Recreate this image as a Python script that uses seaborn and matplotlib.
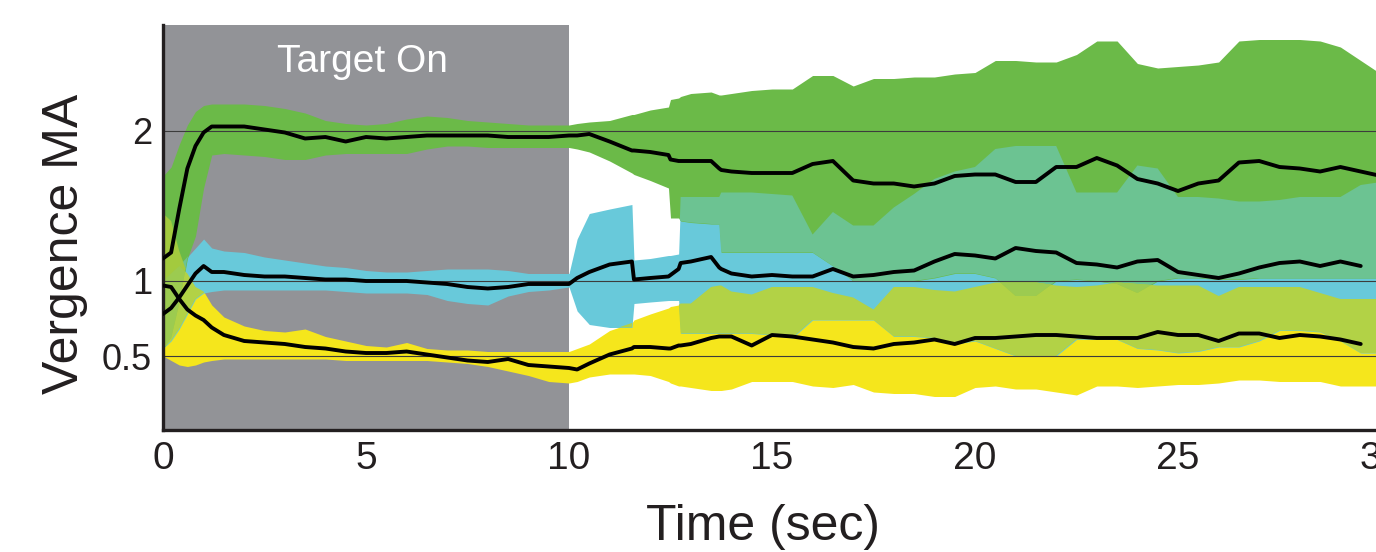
import numpy as np
import pandas as pd
import matplotlib
matplotlib.use("Agg")
import matplotlib.pyplot as plt
import seaborn as sns

# ---------------- data ----------------
time_s = [0, 0.2, 0.4, 0.6, 0.8, 1.0, 1.2, 1.5,
          2.0, 2.5, 3.0, 3.5, 4.0, 4.5, 5.0, 5.5, 6.0, 6.5, 7.0, 7.5, 8.0, 8.5, 9.0, 9.5, 10.0,
          10.2, 10.5, 11.0, 11.55, 11.6, 12.0, 12.45, 12.5, 12.7, 12.75, 13.0, 13.5, 13.7, 13.75, 14.0,
          14.5, 15.0, 15.5, 16.0, 16.5, 17.0, 17.5, 18.0, 18.5, 19.0, 19.5, 20.0, 20.5, 21.0, 21.5,
          22.0, 22.5, 23.0, 23.5, 24.0, 24.5, 25.0, 25.5, 26.0, 26.5, 27.0, 27.5, 28.0, 28.5, 29.0,
          29.5, 30.0]

green_mean = [1.15, 1.19, 1.48, 1.75, 1.90, 1.99, 2.03, 2.03,
              2.03, 2.01, 1.99, 1.95, 1.96, 1.93, 1.96, 1.95, 1.96, 1.97, 1.97, 1.97, 1.97, 1.96, 1.96, 1.96, 1.97,
              1.97, 1.98, 1.93, 1.87, 1.87, 1.86, 1.84, 1.81, 1.80, 1.80, 1.80, 1.80, 1.75, 1.74, 1.73,
              1.72, 1.72, 1.72, 1.78, 1.80, 1.67, 1.65, 1.65, 1.63, 1.65, 1.70, 1.71, 1.71, 1.66, 1.66,
              1.76, 1.76, 1.82, 1.77, 1.68, 1.65, 1.60, 1.65, 1.67, 1.79, 1.80, 1.76, 1.75, 1.73, 1.76,
              1.73, 1.70]
green_upper = [1.70, 1.76, 1.91, 2.04, 2.13, 2.17, 2.18, 2.18,
               2.18, 2.17, 2.15, 2.12, 2.07, 2.05, 2.04, 2.05, 2.08, 2.10, 2.09, 2.07, 2.06, 2.05, 2.04, 2.04, 2.04,
               2.05, 2.06, 2.07, 2.11, 2.11, 2.14, 2.16, 2.21, 2.22, 2.23, 2.25, 2.26, 2.24, 2.24, 2.25,
               2.27, 2.28, 2.28, 2.37, 2.37, 2.30, 2.35, 2.35, 2.36, 2.36, 2.38, 2.39, 2.47, 2.47, 2.46,
               2.46, 2.51, 2.60, 2.60, 2.45, 2.42, 2.43, 2.44, 2.46, 2.60, 2.61, 2.61, 2.61, 2.60, 2.56,
               2.47, 2.38]
green_lower = [0.55, 0.62, 0.85, 1.15, 1.30, 1.62, 1.84, 1.85,
               1.84, 1.83, 1.81, 1.81, 1.84, 1.85, 1.85, 1.85, 1.85, 1.88, 1.90, 1.90, 1.89, 1.89, 1.89, 1.89, 1.89,
               1.88, 1.86, 1.80, 1.72, 1.71, 1.67, 1.62, 1.42, 1.42, 1.40, 1.39, 1.38, 1.38, 1.19, 1.19,
               1.19, 1.19, 1.19, 1.19, 1.10, 1.00, 1.00, 1.00, 1.00, 1.02, 1.05, 1.05, 1.02, 0.90, 0.90,
               1.00, 1.01, 1.00, 0.98, 0.92, 1.00, 1.02, 1.02, 1.01, 1.01, 1.02, 1.02, 1.02, 1.02, 1.02,
               1.02, 1.02]

cyan_mean = [0.78, 0.82, 0.89, 0.97, 1.05, 1.10, 1.06, 1.06,
             1.04, 1.03, 1.03, 1.02, 1.01, 1.01, 1.00, 1.00, 1.00, 0.99, 0.98, 0.96, 0.95, 0.96, 0.98, 0.98, 0.98,
             1.02, 1.06, 1.11, 1.13, 1.01, 1.02, 1.03, 1.04, 1.08, 1.12, 1.13, 1.16, 1.09, 1.08, 1.05,
             1.03, 1.04, 1.03, 1.03, 1.08, 1.03, 1.04, 1.06, 1.07, 1.13, 1.18, 1.17, 1.15, 1.22, 1.20,
             1.19, 1.12, 1.11, 1.09, 1.13, 1.14, 1.06, 1.04, 1.02, 1.05, 1.09, 1.12, 1.13, 1.10, 1.13,
             1.10, np.nan]
cyan_upper = [1.00, 1.05, 1.10, 1.16, 1.22, 1.28, 1.22, 1.20,
              1.19, 1.16, 1.14, 1.12, 1.10, 1.09, 1.07, 1.06, 1.06, 1.07, 1.08, 1.08, 1.08, 1.07, 1.05, 1.05, 1.05,
              1.28, 1.45, 1.48, 1.51, 1.14, 1.15, 1.17, 1.17, 1.18, 1.56, 1.56, 1.56, 1.56, 1.59, 1.59,
              1.59, 1.58, 1.57, 1.31, 1.46, 1.37, 1.37, 1.49, 1.58, 1.68, 1.73, 1.76, 1.88, 1.90, 1.90,
              1.90, 1.59, 1.59, 1.59, 1.77, 1.75, 1.56, 1.56, 1.55, 1.53, 1.53, 1.54, 1.56, 1.56, 1.56,
              1.64, 1.66]
cyan_lower = [0.55, 0.60, 0.68, 0.78, 0.88, 0.92, 0.93, 0.94,
              0.94, 0.94, 0.94, 0.94, 0.94, 0.93, 0.92, 0.92, 0.92, 0.91, 0.87, 0.85, 0.84, 0.90, 0.93, 0.94, 0.96,
              0.80, 0.71, 0.69, 0.69, 0.85, 0.86, 0.87, 0.87, 0.87, 0.65, 0.65, 0.65, 0.65, 0.65, 0.65,
              0.65, 0.64, 0.62, 0.74, 0.74, 0.74, 0.74, 0.63, 0.63, 0.62, 0.58, 0.60, 0.55, 0.50, 0.50,
              0.50, 0.61, 0.61, 0.61, 0.55, 0.54, 0.52, 0.53, 0.56, 0.56, 0.60, 0.67, 0.67, 0.66, 0.60,
              0.52, 0.52]

yellow_mean = [0.97, 0.96, 0.88, 0.81, 0.77, 0.74, 0.69, 0.64,
               0.60, 0.59, 0.58, 0.56, 0.55, 0.53, 0.52, 0.52, 0.53, 0.51, 0.49, 0.47, 0.46, 0.48, 0.44, 0.43, 0.42,
               0.41, 0.45, 0.51, 0.55, 0.56, 0.56, 0.55, 0.55, 0.57, 0.57, 0.58, 0.62, 0.63, 0.63, 0.63,
               0.57, 0.64, 0.63, 0.61, 0.59, 0.56, 0.55, 0.58, 0.59, 0.61, 0.58, 0.62, 0.62, 0.63, 0.64,
               0.64, 0.63, 0.62, 0.62, 0.62, 0.66, 0.64, 0.64, 0.60, 0.65, 0.65, 0.62, 0.64, 0.63, 0.61,
               0.58, np.nan]
yellow_upper = [1.45, 1.40, 1.20, 1.05, 0.96, 0.93, 0.84, 0.76,
                0.70, 0.67, 0.66, 0.68, 0.63, 0.60, 0.57, 0.56, 0.59, 0.55, 0.54, 0.54, 0.53, 0.53, 0.53, 0.53, 0.53,
                0.55, 0.58, 0.67, 0.72, 0.74, 0.78, 0.82, 0.83, 0.84, 0.85, 0.85, 0.96, 0.97, 0.97, 0.93,
                0.91, 0.96, 0.96, 0.96, 0.92, 0.89, 0.81, 0.96, 0.96, 0.94, 0.93, 0.96, 0.99, 0.99, 0.99,
                0.97, 0.96, 0.97, 0.99, 0.98, 0.97, 0.97, 0.97, 0.90, 0.96, 0.96, 0.96, 0.96, 0.92, 0.88,
                0.88, 0.88]
yellow_lower = [0.50, 0.47, 0.44, 0.43, 0.44, 0.46, 0.47, 0.48,
                0.48, 0.48, 0.48, 0.48, 0.48, 0.47, 0.47, 0.47, 0.47, 0.47, 0.46, 0.45, 0.43, 0.40, 0.37, 0.33, 0.32,
                0.33, 0.36, 0.38, 0.38, 0.38, 0.37, 0.33, 0.32, 0.30, 0.30, 0.29, 0.27, 0.27, 0.27, 0.28,
                0.33, 0.33, 0.33, 0.30, 0.29, 0.31, 0.26, 0.25, 0.25, 0.23, 0.23, 0.29, 0.30, 0.28, 0.28,
                0.26, 0.24, 0.30, 0.30, 0.29, 0.30, 0.31, 0.31, 0.32, 0.34, 0.34, 0.33, 0.33, 0.33, 0.30,
                0.30, 0.30]

x_ticks = [0, 5, 10, 15, 20, 25, 30]
x_tick_labels = ["0", "5", "10", "15", "20", "25", "30"]
y_ticks = [0.5, 1.0, 1.5, 2.0, 2.5]
y_tick_labels = ["0.5", "1", "", "2", ""]
ref_levels = [0.5, 1.0, 2.0]
target_on = (0, 10)

# ---------------- style ----------------
sns.set_theme(style="white")
plt.rcParams["font.family"] = ["Liberation Sans", "DejaVu Sans"]
ink = "#231f20"

C_GREEN = "#6bba48"
C_CYAN = "#68c9da"
C_YELLOW = "#f5e61c"
C_GC = "#6cc392"
C_CY = "#b2d246"
C_GY = "#a3ca3e"
C_GCY = "#9ccb50"
C_GRAY = "#929397"

W, H = 1376, 552
fig = plt.figure(figsize=(W / 100, H / 100), dpi=100)
x0, x1, ytop, ybot = 163, 1381, 25, 429.5
ax = fig.add_axes([x0 / W, (H - ybot) / H, (x1 - x0) / W, (ybot - ytop) / H])

t = np.array(time_s, dtype=float)
bands = {
    "g": (np.array(green_lower), np.array(green_upper)),
    "c": (np.array(cyan_lower), np.array(cyan_upper)),
    "y": (np.array(yellow_lower), np.array(yellow_upper)),
}
colors = {"g": C_GREEN, "c": C_CYAN, "y": C_YELLOW}

ax.axvspan(*target_on, color=C_GRAY, lw=0, zorder=0)

for k in ["y", "c", "g"]:
    lo, hi = bands[k]
    ax.fill_between(t, lo, hi, color=colors[k], lw=0, zorder=1)


def overlap(keys, color, z):
    lo = np.max([bands[k][0] for k in keys], axis=0)
    hi = np.min([bands[k][1] for k in keys], axis=0)
    ax.fill_between(t, lo, hi, where=hi > lo, interpolate=True, color=color, lw=0, zorder=z)


overlap(["g", "c"], C_GC, 1.1)
overlap(["c", "y"], C_CY, 1.1)
overlap(["g", "y"], C_GY, 1.1)
overlap(["g", "c", "y"], C_GCY, 1.2)

for lv in ref_levels:
    ax.axhline(lv, color="#3c3c3c", lw=0.8, zorder=1.5)

df = pd.concat([
    pd.DataFrame({"time": t, "value": green_mean, "series": "green"}),
    pd.DataFrame({"time": t, "value": cyan_mean, "series": "cyan"}),
    pd.DataFrame({"time": t, "value": yellow_mean, "series": "yellow"}),
], ignore_index=True)
sns.lineplot(data=df, x="time", y="value", units="series", estimator=None,
             color="black", lw=2.8, ax=ax, zorder=3)

ax.text(4.9, 2.46, "Target On", color="white", fontsize=28, ha="center", va="center", zorder=4)

ax.set_xlim(0, 30)
ax.set_ylim((431 - ybot) / 150, (431 - ytop) / 150)
ax.set_xticks(x_ticks)
ax.set_xticklabels(x_tick_labels)
ax.set_yticks(y_ticks)
ax.set_yticklabels(y_tick_labels)
ax.tick_params(axis="both", direction="in", length=10, width=2.2, color=ink, labelcolor=ink)
ax.tick_params(axis="x", labelsize=28, pad=8)
ax.tick_params(axis="y", labelsize=26, pad=8)

sns.despine(ax=ax)
for s in ["left", "bottom"]:
    ax.spines[s].set_linewidth(2.4)
    ax.spines[s].set_color(ink)

ax.set_xlabel("Time (sec)", fontsize=36, color=ink)
ax.set_ylabel("Vergence MA", fontsize=36, color=ink)
ax.xaxis.set_label_coords(0.4926, -0.241)
ax.xaxis.label.set_va("center")
ax.yaxis.set_label_coords(-0.0805, 0.458)
ax.yaxis.label.set_va("center")
ax.yaxis.label.set_ha("center")

fig.savefig("out.png", dpi=100, facecolor="white")
